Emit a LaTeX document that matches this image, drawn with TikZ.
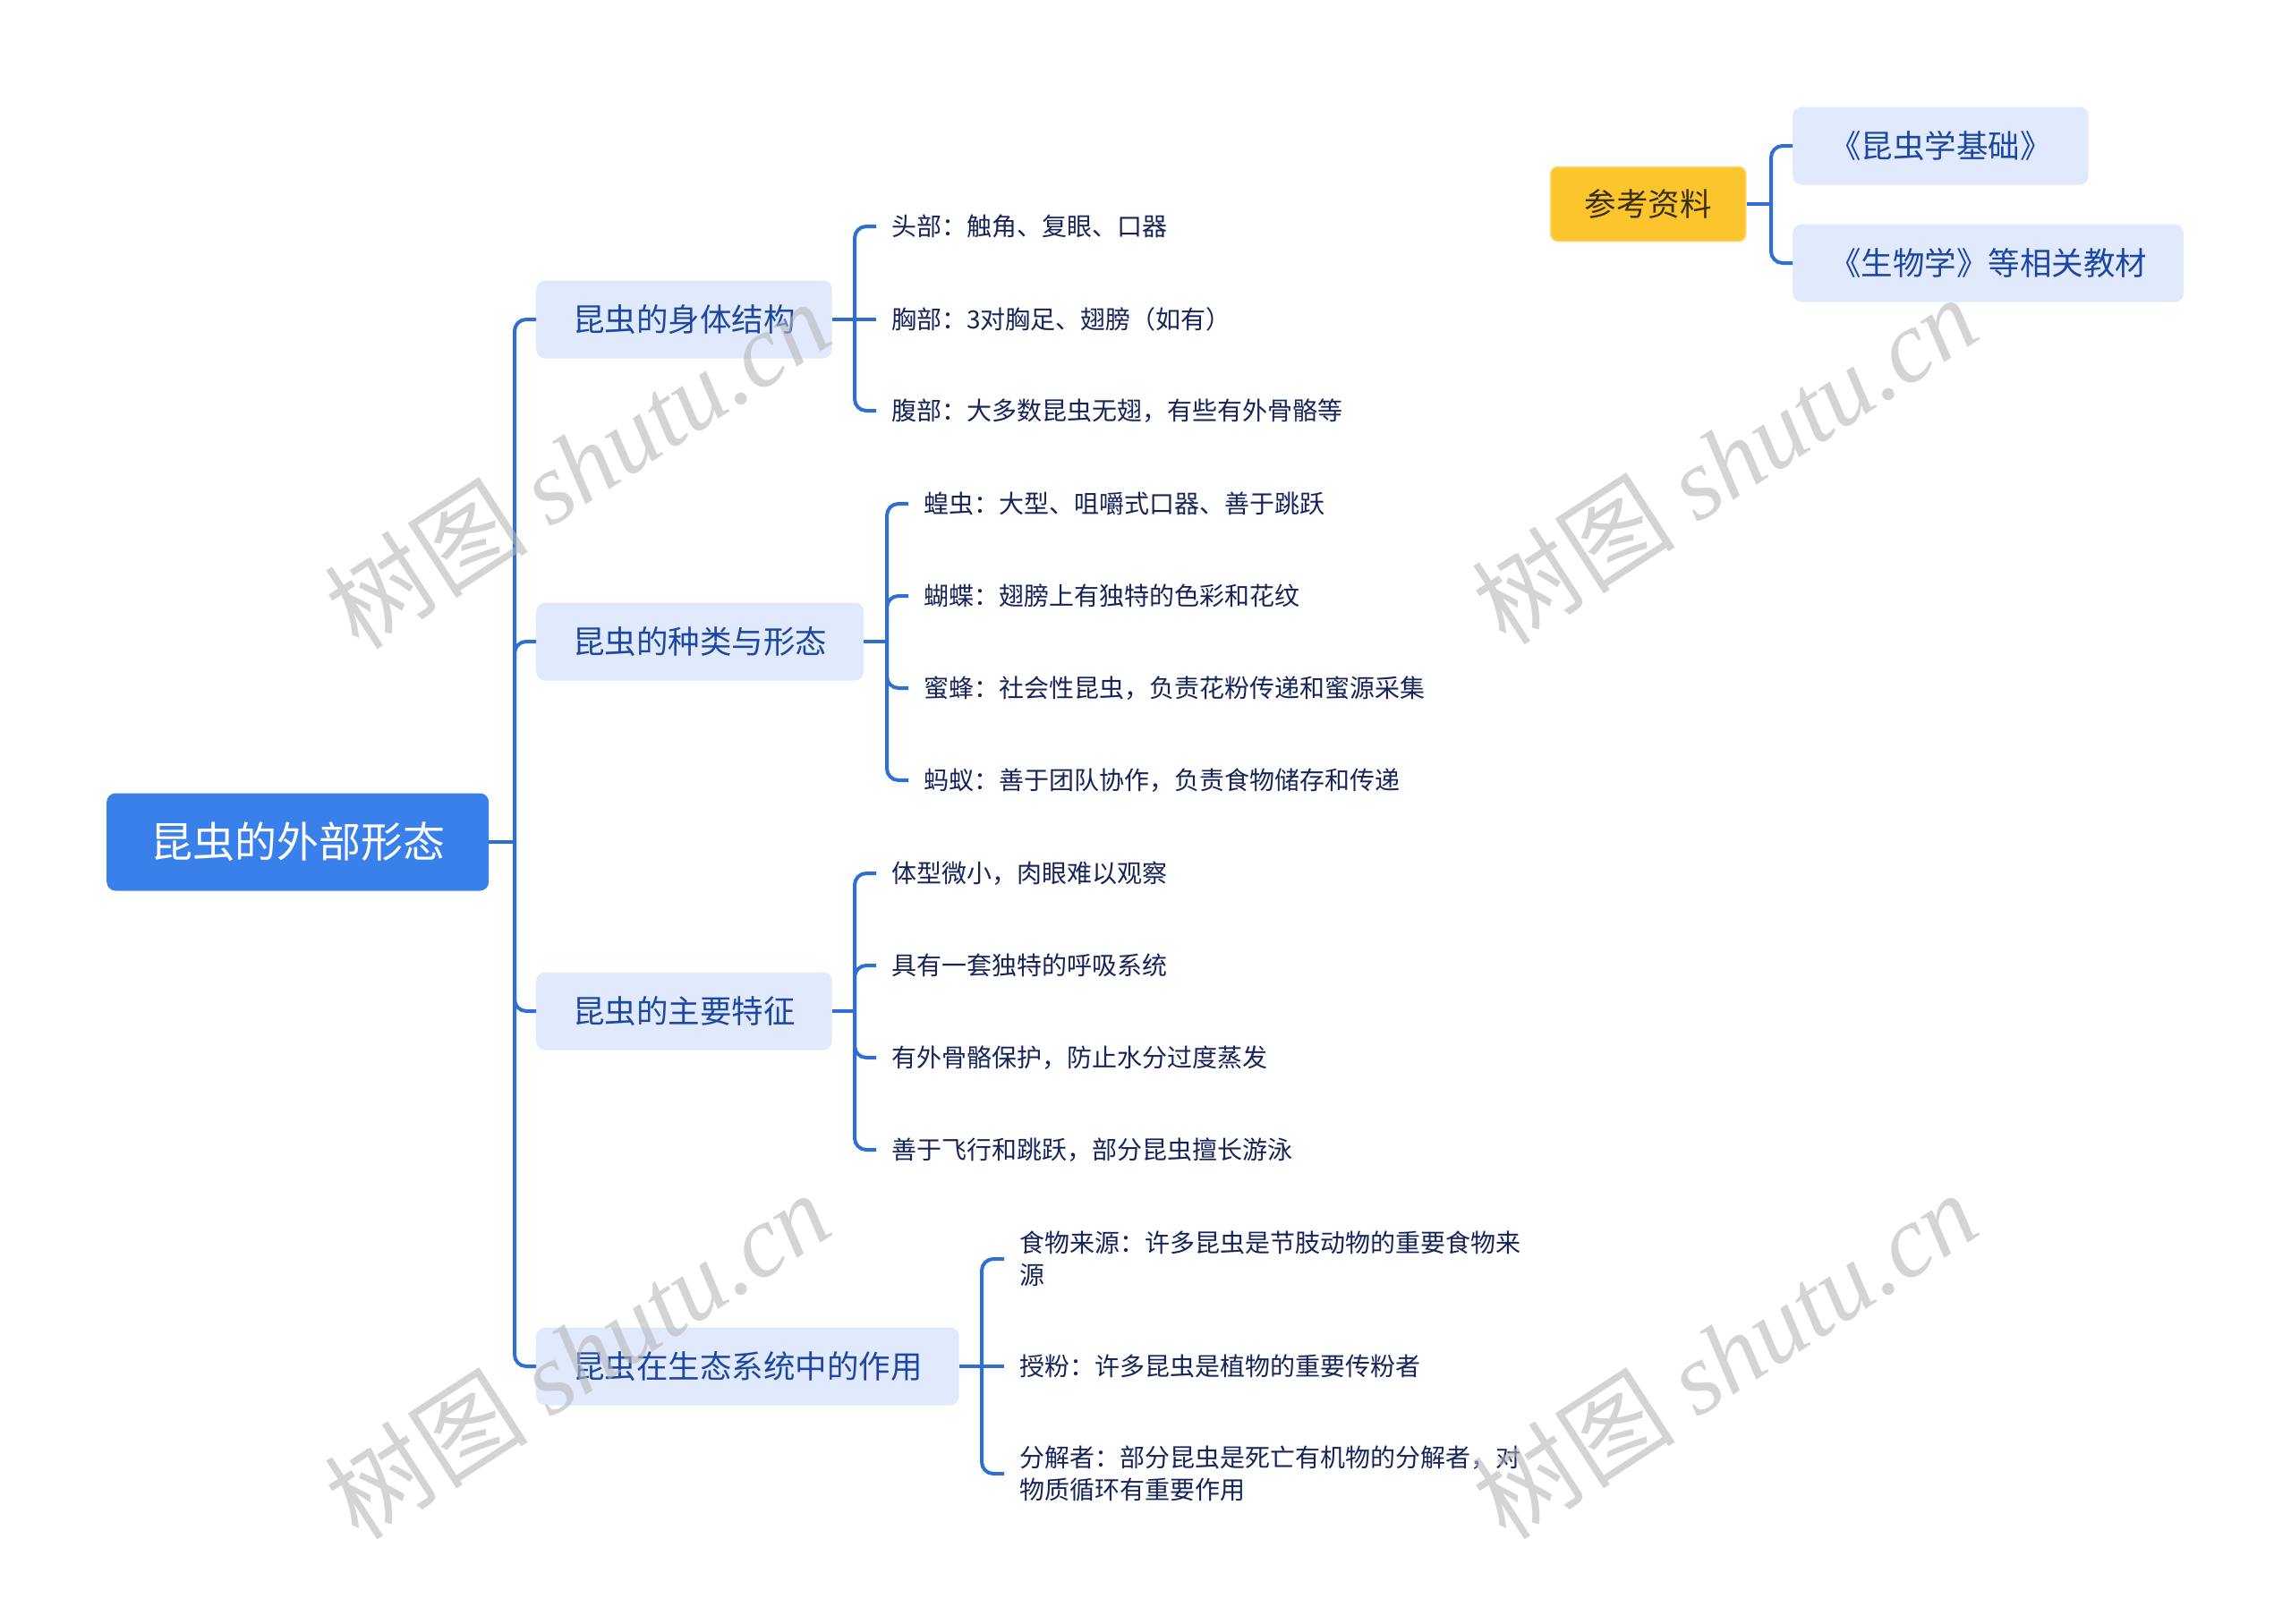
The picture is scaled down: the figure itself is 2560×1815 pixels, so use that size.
\documentclass[tikz,border=0pt]{standalone}
\usepackage{fontspec}
\setmainfont{Noto Sans CJK SC}
\newfontfamily\cjk{Noto Sans CJK SC}
\newfontfamily\wmserif{Liberation Serif}
\definecolor{connc}{HTML}{2F6FD3}
\definecolor{rootc}{HTML}{3A80EA}
\definecolor{lfill}{HTML}{E1E9FC}
\definecolor{ltext}{HTML}{1C47A3}
\definecolor{leaftext}{HTML}{17245A}
\definecolor{yel}{HTML}{FCC42D}
\definecolor{yeltext}{HTML}{3A3010}
\definecolor{wmc}{HTML}{B8B8B8}
\tikzset{
  conn/.style={draw=connc, line width=4pt},
  rc/.style={draw=connc, line width=4pt, rounded corners=13pt},
  rootbox/.style={fill=rootc, rounded corners=10pt, text=white, font=\fontsize{47}{56}\selectfont, minimum height=109pt, inner xsep=49pt, inner ysep=0pt, anchor=west},
  lbox/.style={fill=lfill, rounded corners=10pt, text=ltext, font=\fontsize{35.5}{42}\selectfont, minimum height=87pt, inner xsep=41pt, inner ysep=0pt, anchor=west},
  refbox/.style={fill=yel, draw=yel!70!white, line width=1.5pt, rounded corners=8pt, text=yeltext, font=\fontsize{35.5}{42}\selectfont, minimum height=83pt, inner xsep=38pt, inner ysep=0pt, anchor=west},
  leaf/.style={text=leaftext, font=\fontsize{28}{36}\selectfont, inner xsep=17pt, inner ysep=0pt, anchor=west, align=left},
  wm/.style={text=wmc, opacity=0.6, rotate=33, font=\fontsize{114}{120}\selectfont}
}
\begin{document}
\begin{tikzpicture}[x=1pt,y=-1pt]
\useasboundingbox[fill=white] (0,0) rectangle (2560,1815);

% root
\node[rootbox] (root) at (119,941) {昆虫的外部形态};

% level 1
\node[lbox] (a) at (599,357) {昆虫的身体结构};
\node[lbox] (b) at (599,717) {昆虫的种类与形态};
\node[lbox] (c) at (599,1130) {昆虫的主要特征};
\node[lbox] (d) at (599,1527) {昆虫在生态系统中的作用};

% leaves group a
\node[leaf] (a1) at (979,253) {头部：触角、复眼、口器};
\node[leaf] (a2) at (979,357) {胸部：3对胸足、翅膀（如有）};
\node[leaf] (a3) at (979,459) {腹部：大多数昆虫无翅，有些有外骨骼等};

% leaves group b
\node[leaf] (b1) at (1015,563) {蝗虫：大型、咀嚼式口器、善于跳跃};
\node[leaf] (b2) at (1015,666) {蝴蝶：翅膀上有独特的色彩和花纹};
\node[leaf] (b3) at (1015,769) {蜜蜂：社会性昆虫，负责花粉传递和蜜源采集};
\node[leaf] (b4) at (1015,872) {蚂蚁：善于团队协作，负责食物储存和传递};

% leaves group c
\node[leaf] (c1) at (979,976) {体型微小，肉眼难以观察};
\node[leaf] (c2) at (979,1079) {具有一套独特的呼吸系统};
\node[leaf] (c3) at (979,1182) {有外骨骼保护，防止水分过度蒸发};
\node[leaf] (c4) at (979,1285) {善于飞行和跳跃，部分昆虫擅长游泳};

% leaves group d
\node[leaf] (d1) at (1122,1407) {食物来源：许多昆虫是节肢动物的重要食物来\\源};
\node[leaf] (d2) at (1122,1527) {授粉：许多昆虫是植物的重要传粉者};
\node[leaf] (d3) at (1122,1647) {分解者：部分昆虫是死亡有机物的分解者，对\\物质循环有重要作用};

% reference
\node[refbox] (r) at (1732,228) {参考资料};
\node[lbox] (r1) at (2003,163) {《昆虫学基础》};
\node[lbox] (r2) at (2003,294) {《生物学》等相关教材};

% junctions
\coordinate (j0) at (575,941);
\coordinate (ja) at (955,357);
\coordinate (jb) at (991,717);
\coordinate (jc) at (955,1130);
\coordinate (jd) at (1097,1527);
\coordinate (jr) at (1979,228);

% connectors root
\draw[conn] (root.east) -- (j0);
\draw[rc] (j0) |- (a.west);
\draw[rc] (j0) |- (b.west);
\draw[rc] (j0) |- (c.west);
\draw[rc] (j0) |- (d.west);

% group a
\draw[conn] (a.east) -- (ja);
\draw[rc] (ja) |- (a1.west);
\draw[conn] (ja) -- (a2.west);
\draw[rc] (ja) |- (a3.west);

% group b
\draw[conn] (b.east) -- (jb);
\draw[rc] (jb) |- (b1.west);
\draw[rc] (jb) |- (b2.west);
\draw[rc] (jb) |- (b3.west);
\draw[rc] (jb) |- (b4.west);

% group c
\draw[conn] (c.east) -- (jc);
\draw[rc] (jc) |- (c1.west);
\draw[rc] (jc) |- (c2.west);
\draw[rc] (jc) |- (c3.west);
\draw[rc] (jc) |- (c4.west);

% group d
\draw[conn] (d.east) -- (jd);
\draw[rc] (jd) |- (d1.west);
\draw[conn] (jd) -- (d2.west);
\draw[rc] (jd) |- (d3.west);

% reference group
\draw[conn] (r.east) -- (jr);
\draw[rc] (jr) |- (r1.west);
\draw[rc] (jr) |- (r2.west);

% watermarks
\node[wm] (w1) at (645,519) {{\cjk 树图} {\wmserif\itshape shutu.cn}};
\node[wm] (w2) at (1927,514) {{\cjk 树图} {\wmserif\itshape shutu.cn}};
\node[wm] (w3) at (645,1514) {{\cjk 树图} {\wmserif\itshape shutu.cn}};
\node[wm] (w4) at (1927,1514) {{\cjk 树图} {\wmserif\itshape shutu.cn}};
\end{tikzpicture}
\end{document}
